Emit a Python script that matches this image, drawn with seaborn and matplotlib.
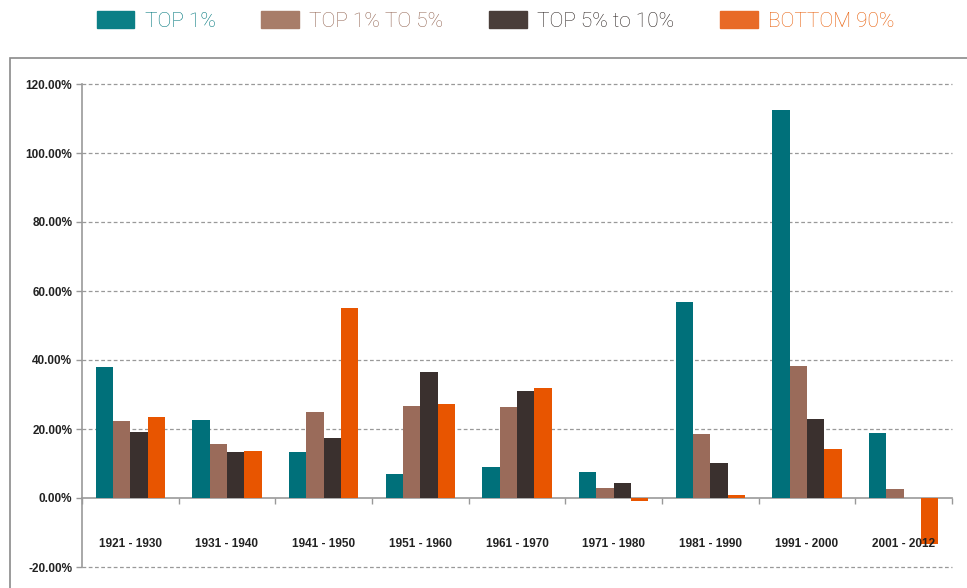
import numpy as np
import pandas as pd
import matplotlib
matplotlib.use("Agg")
import matplotlib.pyplot as plt
import matplotlib.patches as mpatches
import seaborn as sns

periods = ["1921 - 1930", "1931 - 1940", "1941 - 1950", "1951 - 1960", "1961 - 1970",
           "1971 - 1980", "1981 - 1990", "1991 - 2000", "2001 - 2012"]
groups = ["TOP 1%", "TOP 1% TO 5%", "TOP 5% to 10%", "BOTTOM 90%"]
top1 = [38.0, 22.6, 13.3, 7.0, 9.0, 7.6, 56.7, 112.4, 18.8]
top1_5 = [22.3, 15.7, 24.9, 26.7, 26.4, 2.9, 18.6, 38.3, 2.6]
top5_10 = [19.1, 13.3, 17.4, 36.5, 31.0, 4.4, 10.1, 22.9, np.nan]
bottom90 = [23.5, 13.7, 55.0, 27.2, 31.9, -0.9, 0.9, 14.2, -13.4]
bar_colors = ["#00707A", "#9A6B5A", "#3A302E", "#E85500"]
legend_colors = ["#0B7F86", "#A87D69", "#4A3E3A", "#E86A27"]
legend_text_colors = ["#00777D", "#966A58", "#2E2624", "#E8620F"]
yticks = [-20, 0, 20, 40, 60, 80, 100, 120]

df = pd.DataFrame({
    "period": periods * 4,
    "group": [g for g in groups for _ in periods],
    "value": top1 + top1_5 + top5_10 + bottom90,
})

sns.set_theme(style="white")
plt.rcParams["font.family"] = ["Liberation Sans", "DejaVu Sans"]

fig = plt.figure(figsize=(9.67, 5.88), dpi=100)
ax = fig.add_axes([82 / 967, 1 - 567 / 588, (952 - 82) / 967, (567 - 84) / 588])

sns.barplot(data=df, x="period", y="value", hue="group", hue_order=groups,
            order=periods, palette=bar_colors, width=0.72, saturation=1,
            ax=ax, legend=False, errorbar=None, linewidth=0)

ax.set_xlim(-0.5, len(periods) - 0.5)
ax.set_ylim(-20, 120)
ax.set_yticks(yticks)
ax.set_yticklabels([f"{v:.2f}%" for v in yticks], fontsize=8.5, fontweight="bold", color="#222222")
ax.set_xticks([])
ax.set_xlabel("")
ax.set_ylabel("")
ax.tick_params(axis="y", left=True, length=4, width=1, color="#999999", pad=3)

for v in yticks:
    if v == 0:
        continue
    ax.axhline(v, color="#999999", lw=0.9, ls=(0, (3, 2)), zorder=0, clip_on=False)

for s in ["top", "right", "bottom"]:
    ax.spines[s].set_visible(False)
ax.spines["left"].set_color("#999999")
ax.spines["left"].set_linewidth(1.2)

# zero axis with boundary ticks
sec = ax.secondary_xaxis(20 / 140)
sec.set_xticks(np.arange(-0.5, len(periods), 1.0))
sec.set_xticklabels([])
sec.tick_params(axis="x", length=4, width=1, color="#999999", direction="out")
sec.spines["bottom"].set_color("#999999")
sec.spines["bottom"].set_linewidth(1.2)

for i, p in enumerate(periods):
    ax.text(i, 0.048, p, transform=ax.get_xaxis_transform(), ha="center", va="center",
            fontsize=8.5, fontweight="bold", color="#222222")

# outer frame
fig.add_artist(mpatches.Rectangle((10 / 967, -0.05), 1.0, 1.05 - 58 / 588,
                                  transform=fig.transFigure, fill=False,
                                  edgecolor="#8a8a8a", lw=1.2))

handles = [mpatches.Patch(color=c, label=g) for c, g in zip(legend_colors, groups)]
leg = fig.legend(handles=handles, loc="center", bbox_to_anchor=(495.5 / 967, 1 - 21 / 588),
                 ncol=4, frameon=False, handlelength=1.8, handleheight=0.9,
                 handletextpad=0.5, columnspacing=2.2, labelcolor=legend_text_colors,
                 prop={"family": ["Roboto", "DejaVu Sans"], "weight": "light", "size": 15})

fig.savefig("out.png", dpi=100)
